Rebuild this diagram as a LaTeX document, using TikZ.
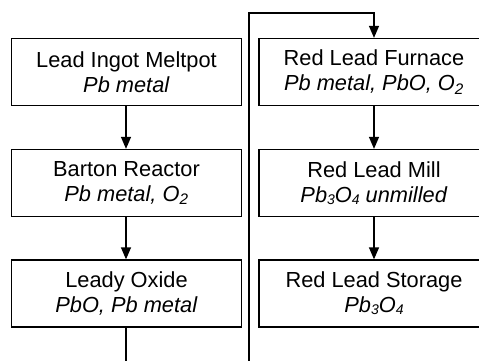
\documentclass[tikz,border=0pt]{standalone}
\usepackage{fontspec}
\setsansfont{Liberation Sans}
\usepackage{tikz}
\usetikzlibrary{arrows.meta,positioning}
\tikzset{
  base/.style={font=\sffamily\fontsize{21.8}{25}\selectfont, align=center, inner sep=2pt, text=black},
  box/.style={base, rectangle, draw=black, fill=white, line width=1.3pt, minimum height=67pt, minimum width=230pt},
  arr/.style={-{Triangle[length=12pt,width=10pt]}, line width=1.3pt, draw=black},
  flow/.style={line width=1.3pt, draw=black},
}
\newcommand{\chemsub}[1]{\raisebox{-0.15ex}{\fontsize{14}{14}\selectfont #1}}

\begin{document}
\begin{tikzpicture}[x=1pt,y=-1pt]
  \useasboundingbox (0,0) rectangle (479,361);
  \clip (0,0) rectangle (479,361);
  % left column
  \node[box] (meltpot) at (126.5,72)    {Lead Ingot Meltpot\\\textit{Pb metal}};
  \node[box] (barton)  at (126.5,183)   {Barton Reactor\\\textit{Pb metal, O\textsubscript{2}}};
  \node[box] (oxide)   at (126.5,293.5) {Leady Oxide\\\textit{PbO, Pb metal}};
  % right column
  \node[box] (furnace) at (374,72)    {Red Lead Furnace\\\textit{Pb metal, PbO, O\textsubscript{2}}};
  \node[box] (mill)    at (374,183)   {Red Lead Mill\\\textit{Pb\chemsub{3}O\chemsub{4} unmilled}};
  \node[box] (storage) at (374,293.5) {Red Lead Storage\\\textit{Pb\chemsub{3}O\chemsub{4}}};
  % loop ends
  \coordinate (exitbot) at (126,361);
  \coordinate (loopbot) at (249,361);
  \coordinate (looptop) at (249,13);
  % flows
  \draw[arr] (meltpot.south -| exitbot) -- (barton.north -| exitbot);
  \draw[arr] (barton.south -| exitbot) -- (oxide.north -| exitbot);
  \draw[flow] (oxide.south -| exitbot) -- (exitbot);
  \draw[arr] (loopbot) -- (looptop) -| (furnace.north);
  \draw[arr] (furnace) -- (mill);
  \draw[arr] (mill) -- (storage);
\end{tikzpicture}
\end{document}
